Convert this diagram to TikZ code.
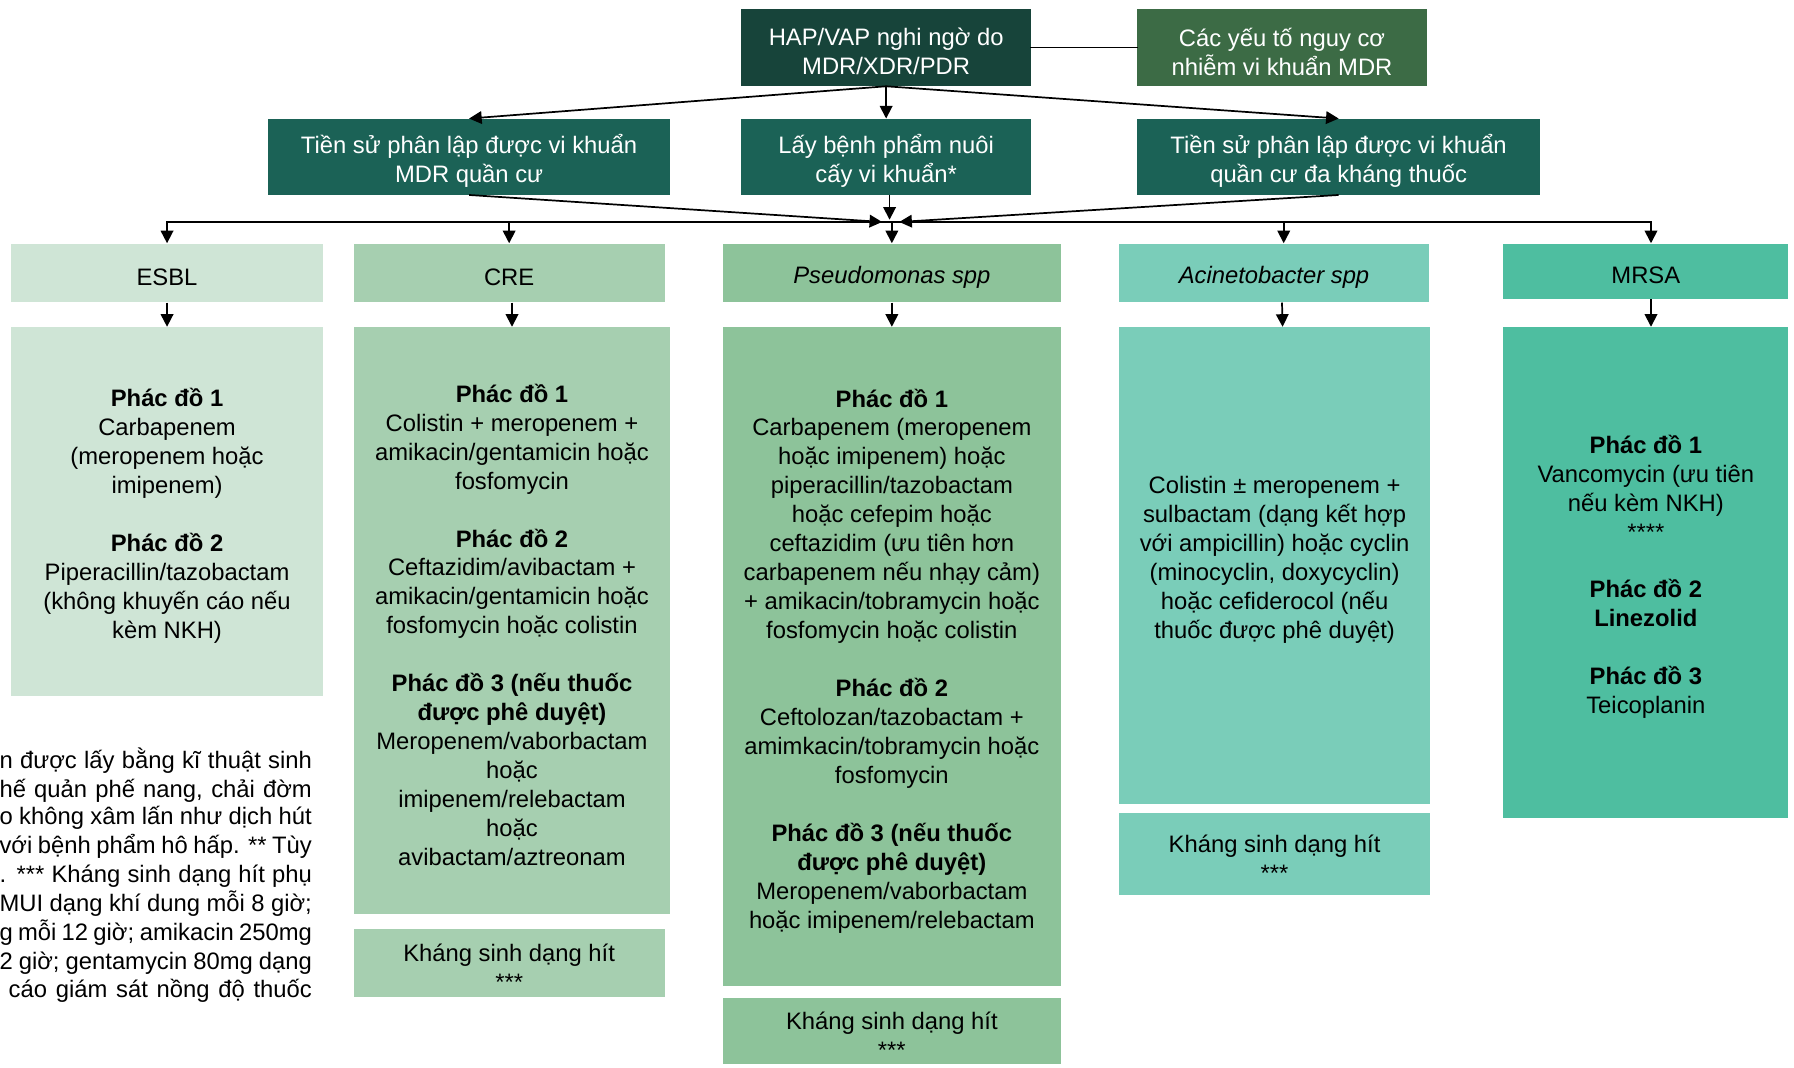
\documentclass[tikz,border=0pt]{standalone}
\usepackage{fontspec}
\setmainfont{Liberation Sans}
\usetikzlibrary{arrows.meta}
\definecolor{hapC}{HTML}{17443A}
\definecolor{riskC}{HTML}{3C6B45}
\definecolor{rowC}{HTML}{1B6256}
\definecolor{esblC}{HTML}{CFE5D6}
\definecolor{creC}{HTML}{A6CFB0}
\definecolor{pseudoC}{HTML}{8DC39A}
\definecolor{acinC}{HTML}{7ACDB9}
\definecolor{mrsaC}{HTML}{4EBEA0}
\newcommand\fsz{\fontsize{10.4pt}{12.65pt}\selectfont}
\newcommand\gap{12.65pt}
% #1 name, #2-#5 corners, #6 box style, #7 text style, #8 text
\newcommand\mkbox[8]{%
 \pgfmathsetmacro\bxcx{(#2+#4)/2}%
 \pgfmathsetmacro\bxcy{(#3+#5)/2}%
 \pgfmathsetmacro\bxw{(#4-#2)/2}%
 \pgfmathsetmacro\bxh{(#5-#3)/2}%
 \node[box,#6,minimum width=\bxw pt,minimum height=\bxh pt] (#1) at (\bxcx,\bxcy) {};
 \node[boxtext,#7] (#1T) at ([yshift=-1.8pt]#1.center) {#8};}
\tikzset{
 box/.style={rectangle, inner sep=0pt, draw=none},
 boxtext/.style={inner sep=0pt, align=center, font=\fsz},
 dark/.style={text=white},
 conn/.style={line width=0.75pt, black, line cap=rect},
 arr/.style={line width=0.75pt, black, -{Triangle[length=5.5pt,width=5.5pt]}},
 foot/.style={inner sep=0pt, font=\fsz, anchor=base east},
}
\begin{document}
\begin{tikzpicture}[x=0.5pt,y=-0.5pt]
\useasboundingbox (0,0) rectangle (1568,933);
% top row
\mkbox{hap}{648}{8}{901}{75}{fill=hapC}{dark}{HAP/VAP nghi ngờ do\\MDR/XDR/PDR}
\mkbox{risk}{994}{8}{1247}{75}{fill=riskC}{dark}{Các yếu tố nguy cơ\\nhiễm vi khuẩn MDR}
% second row
\mkbox{hist1}{234}{104}{586}{170}{fill=rowC}{dark}{Tiền sử phân lập được vi khuẩn\\MDR quần cư}
\mkbox{culture}{648}{104}{901}{170}{fill=rowC}{dark}{Lấy bệnh phẩm nuôi\\cấy vi khuẩn*}
\mkbox{hist2}{994}{104}{1346}{170}{fill=rowC}{dark}{Tiền sử phân lập được vi khuẩn\\quần cư đa kháng thuốc}
% categories
\mkbox{esbl}{10}{213}{282}{264}{fill=esblC}{}{ESBL}
\mkbox{cre}{309}{213}{581}{264}{fill=creC}{}{CRE}
\mkbox{pseudo}{632}{213}{927}{264}{fill=pseudoC}{}{\itshape Pseudomonas spp}
\mkbox{acin}{978}{213}{1249}{264}{fill=acinC}{}{\itshape Acinetobacter spp}
\mkbox{mrsa}{1314}{213}{1563}{261}{fill=mrsaC}{}{MRSA}
% regimens
\mkbox{esblR}{10}{286}{282}{608}{fill=esblC}{}{\textbf{Phác đồ 1}\\Carbapenem\\(meropenem hoặc\\imipenem)\\[\gap]\textbf{Phác đồ 2}\\Piperacillin/tazobactam\\(không khuyến cáo nếu\\kèm NKH)}
\mkbox{creR}{309}{286}{586}{799}{fill=creC}{}{\textbf{Phác đồ 1}\\Colistin + meropenem +\\amikacin/gentamicin hoặc\\fosfomycin\\[\gap]\textbf{Phác đồ 2}\\Ceftazidim/avibactam +\\amikacin/gentamicin hoặc\\fosfomycin hoặc colistin\\[\gap]\textbf{Phác đồ 3 (nếu thuốc}\\\textbf{được phê duyệt)}\\Meropenem/vaborbactam\\hoặc\\imipenem/relebactam\\hoặc\\avibactam/aztreonam}
\mkbox{pseudoR}{632}{286}{927}{862}{fill=pseudoC}{}{\textbf{Phác đồ 1}\\Carbapenem (meropenem\\hoặc imipenem) hoặc\\piperacillin/tazobactam\\hoặc cefepim hoặc\\ceftazidim (ưu tiên hơn\\carbapenem nếu nhạy cảm)\\+ amikacin/tobramycin hoặc\\fosfomycin hoặc colistin\\[\gap]\textbf{Phác đồ 2}\\Ceftolozan/tazobactam +\\amimkacin/tobramycin hoặc\\fosfomycin\\[\gap]\textbf{Phác đồ 3 (nếu thuốc}\\\textbf{được phê duyệt)}\\Meropenem/vaborbactam\\hoặc imipenem/relebactam}
\mkbox{acinR}{978}{286}{1250}{703}{fill=acinC}{yshift=4.5pt}{Colistin ± meropenem +\\sulbactam (dạng kết hợp\\với ampicillin) hoặc cyclin\\(minocyclin, doxycyclin)\\hoặc cefiderocol (nếu\\thuốc được phê duyệt)}
\mkbox{mrsaR}{1314}{286}{1563}{715}{fill=mrsaC}{}{\textbf{Phác đồ 1}\\Vancomycin (ưu tiên\\nếu kèm NKH)\\\mbox{****}\\[\gap]\textbf{Phác đồ 2}\\\textbf{Linezolid}\\[\gap]\textbf{Phác đồ 3}\\Teicoplanin}
% inhaled
\mkbox{creI}{309}{812}{581}{871}{fill=creC}{}{Kháng sinh dạng hít\\\mbox{***}}
\mkbox{pseudoI}{632}{872}{927}{930}{fill=pseudoC}{}{Kháng sinh dạng hít\\\mbox{***}}
\mkbox{acinI}{978}{711}{1250}{782}{fill=acinC}{}{Kháng sinh dạng hít\\\mbox{***}}
% connectors top
\draw[conn] (hap.east) -- (risk.west);
\draw[arr] (hap.south) -- (hist1.north);
\draw[arr] (hap.south) -- (culture.north);
\draw[arr] (hap.south) -- (hist2.north);
\coordinate (busL) at (771,194);
\coordinate (busR) at (786,194);
\coordinate (busM) at (777.5,192);
\draw[arr] (hist1.south) -- (busL);
\draw[arr] (culture.south -| busM) -- (busM);
\draw[arr] (hist2.south) -- (busR);
\coordinate (acinTop) at ([xshift=4.25pt]acin.north);
\coordinate (mrsaTop) at ([xshift=2.25pt]mrsa.north);
\draw[conn] (esbl.north |- busL) -- (mrsaTop |- busL);
\draw[arr] (esbl.north |- busL) -- (esbl.north);
\draw[arr] (cre.north |- busL) -- (cre.north);
\draw[arr] (pseudo.north |- busL) -- (pseudo.north);
\draw[arr] (acinTop |- busL) -- (acinTop);
\draw[arr] (mrsaTop |- busL) -- (mrsaTop);
% category to regimen
\draw[arr] (esbl.south) -- (esblR.north);
\draw[arr] (creR.north |- cre.south) -- (creR.north);
\draw[arr] (pseudo.south) -- (pseudoR.north);
\draw[arr] ([xshift=3.5pt]acin.south) -- ([xshift=3.5pt]acinR.north);
\draw[arr] ([xshift=2.25pt]mrsa.south) -- ([xshift=2.25pt]mrsaR.north);
% footnote (cut at left edge)
\node[foot] (f1) at (273,672) {\makebox[136.5pt][s]{n được lấy bằng kĩ thuật sinh}};
\node[foot] (f2) at (273,697) {\makebox[136.5pt][s]{hế quản phế nang, chải đờm}};
\node[foot] (f3) at (273,721) {\makebox[136.5pt][s]{o không xâm lấn như dịch hút}};
\node[foot] (f4) at (273,746) {\makebox[136.5pt][s]{với bệnh phẩm hô hấp. ** Tùy}};
\node[foot] (f5) at (273,771) {\makebox[136.5pt][s]{. *** Kháng sinh dạng hít phụ}};
\node[foot] (f6) at (273,797) {\makebox[136.5pt][s]{MUI dạng khí dung mỗi 8 giờ;}};
\node[foot] (f7) at (273,822) {\makebox[136.5pt][s]{g mỗi 12 giờ; amikacin 250mg}};
\node[foot] (f8) at (273,847) {\makebox[136.5pt][s]{2 giờ; gentamycin 80mg dạng}};
\node[foot] (f9) at (273,872) {\makebox[132.5pt][s]{cáo giám sát nồng độ thuốc}};
\end{tikzpicture}
\end{document}
